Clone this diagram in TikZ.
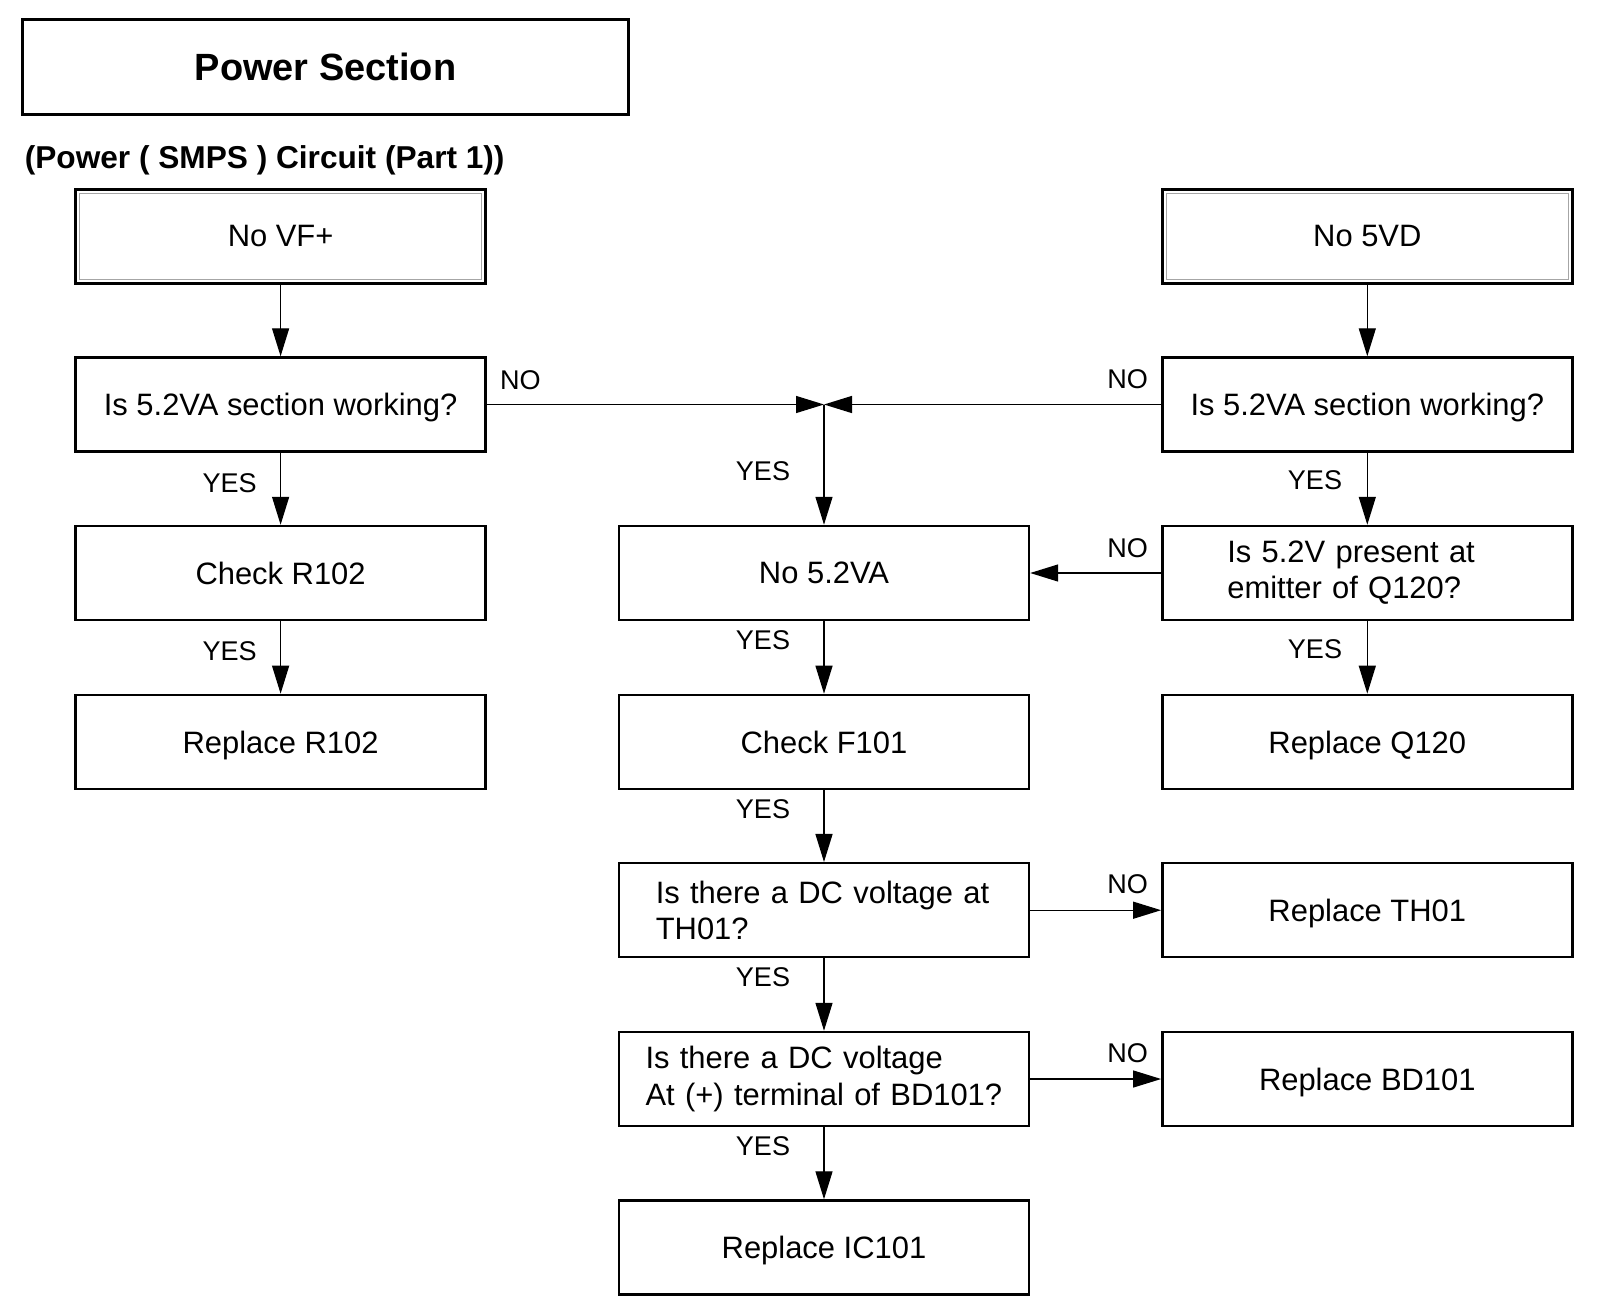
\documentclass[tikz,border=0pt]{standalone}
\usepackage{fontspec}
\setmainfont{Liberation Sans}
\usetikzlibrary{arrows.meta,calc,positioning}

\begin{document}
\begin{tikzpicture}[x=0.02cm,y=-0.02cm,>={Triangle[length=0.56cm,width=0.34cm]},
      box/.style={draw,line width=1.4pt,minimum width=8.2cm,minimum height=1.88cm,inner sep=2pt,
        font=\fontsize{17.6}{20.6}\selectfont,align=center,text depth=0pt},
      qbox/.style={draw,line width=1.4pt,minimum width=8.2cm,minimum height=1.88cm,inner sep=2pt,
        font=\fontsize{17.6}{20.6}\selectfont,align=left},
      frame/.style={draw=gray!70,line width=0.5pt},
      lbl/.style={font=\fontsize{15.4}{18}\selectfont,inner sep=0pt},
      link/.style={->,line width=0.75pt}]
    \useasboundingbox (0,0) rectangle (1600,1312);
    % heading
    \node[draw,line width=1.4pt,minimum width=12.12cm,minimum height=1.9cm,
      font=\fontsize{21.6}{25}\selectfont\bfseries] (ttl) at (325.5,66.8) {Power Section};
    \node[anchor=west,inner sep=0pt,font=\fontsize{18}{21}\selectfont\bfseries] (sub) at (24.5,160)
      {(Power ( SMPS ) Circuit (Part 1))};
    % left column
    \node[box]  (nvf) at (280.6,236.3) {No VF+};
    \node[box]  (q1)  at (280.6,404.5) {Is 5.2VA section working?};
    \node[box]  (cr)  at (280.6,573)   {Check R102};
    \node[box]  (rr)  at (280.6,741.9) {Replace R102};
    % middle column
    \coordinate (jn) at (824,404.5);
    \node[box]  (n52) at (824,573)    {No 5.2VA};
    \node[box]  (cf)  at (824,741.9)  {Check F101};
    \node[qbox,text width=6.73cm] (q4) at (824,910.2) {Is there a DC voltage at\\TH01?};
    \node[qbox,text width=7.14cm] (q5) at (824,1079)  {Is there a DC voltage\\At (+) terminal of BD101?};
    \node[box]  (ric) at (824,1247.5) {Replace IC101};
    % right column
    \node[box]  (n5vd) at (1367.3,236.3) {No 5VD};
    \node[box]  (q2)   at (1367.3,404.5) {Is 5.2VA section working?};
    \node[qbox,text width=5.6cm] (q3) at (1367.3,573) {Is 5.2V present at\\emitter of Q120?};
    \node[box]  (rq)   at (1367.3,741.9) {Replace Q120};
    \node[box]  (rth)  at (1367.3,910.2) {Replace TH01};
    \node[box]  (rbd)  at (1367.3,1079)  {Replace BD101};
    % inner frames of the start boxes
    \draw[frame] ($(nvf.south west)+(0.1cm,0.1cm)$) rectangle ($(nvf.north east)+(-0.1cm,-0.1cm)$);
    \draw[frame] ($(n5vd.south west)+(0.1cm,0.1cm)$) rectangle ($(n5vd.north east)+(-0.1cm,-0.1cm)$);
    % connectors
    \draw[link] (nvf) -- (q1);
    \draw[link] (q1) -- (cr);
    \draw[link] (cr) -- (rr);
    \draw[link] (q1) -- (jn);
    \draw[link] (q2) -- (jn);
    \draw[link] (jn) -- (n52);
    \draw[link] (n5vd) -- (q2);
    \draw[link] (q2) -- (q3);
    \draw[link] (q3) -- (rq);
    \draw[link] (q3) -- (n52);
    \draw[link] (n52) -- (cf);
    \draw[link] (cf) -- (q4);
    \draw[link] (q4) -- (rth);
    \draw[link] (q4) -- (q5);
    \draw[link] (q5) -- (rbd);
    \draw[link] (q5) -- (ric);
    % labels
    \node[lbl] (y1) at (229.6,482.7) {YES};
    \node[lbl] (y2) at (229.6,651)   {YES};
    \node[lbl] (n1) at (520.4,380)   {NO};
    \node[lbl] (n2) at (1127.6,379)  {NO};
    \node[lbl] (y3) at (763,471)     {YES};
    \node[lbl] (y4) at (1315,480.6)  {YES};
    \node[lbl] (y5) at (1315,649)    {YES};
    \node[lbl] (n3) at (1127.6,548)  {NO};
    \node[lbl] (y6) at (763,640)     {YES};
    \node[lbl] (y7) at (763,809)     {YES};
    \node[lbl] (n4) at (1127.6,883.7) {NO};
    \node[lbl] (y8) at (763,977.6)   {YES};
    \node[lbl] (n5) at (1127.6,1053) {NO};
    \node[lbl] (y9) at (763,1146)    {YES};
  \end{tikzpicture}
\end{document}
